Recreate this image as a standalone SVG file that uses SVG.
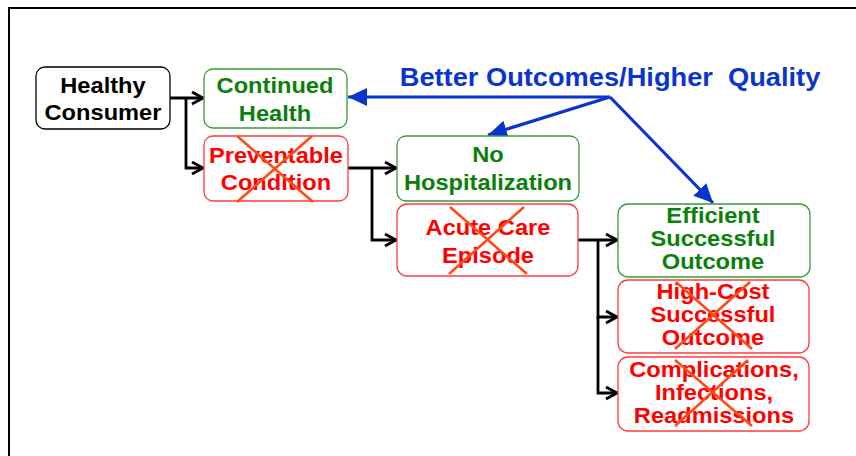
<svg xmlns="http://www.w3.org/2000/svg" width="856" height="456" viewBox="0 0 856 456">
<style>
.box{fill:#fff;stroke-width:1.3}
.blk{stroke:#000}
.grn{stroke:#3a9a3a}
.red{stroke:#ff3b3b}
text{font-family:"Liberation Sans",Arial,sans-serif;font-weight:bold;font-size:22px;text-anchor:middle}
.tb{fill:#000}
.tg{fill:#0a800a}
.tr{fill:#ff0000}
.x{stroke:#ff4a1a;stroke-width:2.6;fill:none}
.conn{stroke:#000;stroke-width:2.8;fill:none}
.blue{stroke:#0a35cc;stroke-width:3.2;fill:none}
</style>
<defs>
<marker id="ah" markerUnits="userSpaceOnUse" markerWidth="16" markerHeight="16" refX="13" refY="7" orient="auto">
<path d="M2,1 L13,7 L2,13" fill="none" stroke="#000" stroke-width="2.8"/>
</marker>
<marker id="bh" markerUnits="userSpaceOnUse" markerWidth="22" markerHeight="20" refX="19" refY="9" orient="auto">
<path d="M0,0 L19,9 L0,18 Z" fill="#0a35cc"/>
</marker>
</defs>
<rect width="856" height="456" fill="#fff"/>
<path d="M9,456 L9,8 L856,8" fill="none" stroke="#000" stroke-width="2"/>

<g id="connectors">
<path class="conn" d="M170,98 L203,98" marker-end="url(#ah)"/>
<path class="conn" d="M186,98 L186,168 L203,168" marker-end="url(#ah)"/>
<path class="conn" d="M348,168 L396,168" marker-end="url(#ah)"/>
<path class="conn" d="M372,168 L372,240 L396,240" marker-end="url(#ah)"/>
<path class="conn" d="M578,240 L617,240" marker-end="url(#ah)"/>
<path class="conn" d="M598,240 L598,317 L617,317" marker-end="url(#ah)"/>
<path class="conn" d="M598,317 L598,393 L617,393" marker-end="url(#ah)"/>
<path class="blue" d="M610,97 L348,97" marker-end="url(#bh)"/>
<path class="blue" d="M610,97 L488,135" marker-end="url(#bh)"/>
<path class="blue" d="M610,97 L713,203" marker-end="url(#bh)"/>
</g>

<g id="label-better">
<text transform="matrix(1.09,0,0,1,610,86)" x="0" y="0" style="font-size:25px" fill="#0a35cc" xml:space="preserve">Better Outcomes/Higher  Quality</text>
</g>

<g id="healthy-consumer">
<rect class="box blk" x="36" y="67" width="134" height="62" rx="9"/>
<text class="tb" transform="matrix(1.075,0,0,1,103,93)">Healthy</text>
<text class="tb" transform="matrix(1.075,0,0,1,103,120)">Consumer</text>
</g>

<g id="continued-health">
<rect class="box grn" x="204" y="69" width="143" height="59" rx="9"/>
<text class="tg" transform="matrix(1.075,0,0,1,275,93)">Continued</text>
<text class="tg" transform="matrix(1.075,0,0,1,275,121)">Health</text>
</g>

<g id="preventable-condition">
<rect class="box red" x="204" y="136" width="144" height="65" rx="9"/>
<text class="tr" transform="matrix(1.075,0,0,1,276,163)">Preventable</text>
<text class="tr" transform="matrix(1.075,0,0,1,276,190)">Condition</text>
<path class="x" d="M237,136 L313,202 M312,136 L237,202"/>
</g>

<g id="no-hospitalization">
<rect class="box grn" x="397" y="136" width="182" height="65" rx="9"/>
<text class="tg" transform="matrix(1.075,0,0,1,488,162)">No</text>
<text class="tg" transform="matrix(1.075,0,0,1,488,190)">Hospitalization</text>
</g>

<g id="acute-care-episode">
<rect class="box red" x="397" y="204" width="181" height="72" rx="10"/>
<text class="tr" transform="matrix(1.075,0,0,1,488,235)">Acute Care</text>
<text class="tr" transform="matrix(1.075,0,0,1,488,263)">Episode</text>
<path class="x" d="M450,207 L527,274 M524,207 L449,274"/>
</g>

<g id="efficient-successful-outcome">
<rect class="box grn" x="618" y="204" width="192" height="73" rx="10"/>
<text class="tg" transform="matrix(1.075,0,0,1,713,223)">Efficient</text>
<text class="tg" transform="matrix(1.075,0,0,1,713,246)">Successful</text>
<text class="tg" transform="matrix(1.075,0,0,1,713,269)">Outcome</text>
</g>

<g id="high-cost-successful-outcome">
<rect class="box red" x="618" y="280" width="191" height="73" rx="10"/>
<text class="tr" transform="matrix(1.075,0,0,1,713,299)">High-Cost</text>
<text class="tr" transform="matrix(1.075,0,0,1,713,322)">Successful</text>
<text class="tr" transform="matrix(1.075,0,0,1,713,345)">Outcome</text>
<path class="x" d="M676,282 L752,349 M750,282 L675,349"/>
</g>

<g id="complications">
<rect class="box red" x="618" y="357" width="191" height="74" rx="10"/>
<text class="tr" transform="matrix(1.075,0,0,1,714,377)">Complications,</text>
<text class="tr" transform="matrix(1.075,0,0,1,714,400)">Infections,</text>
<text class="tr" transform="matrix(1.075,0,0,1,714,423)">Readmissions</text>
<path class="x" d="M675,360 L752,426 M748,360 L675,426"/>
</g>
</svg>
